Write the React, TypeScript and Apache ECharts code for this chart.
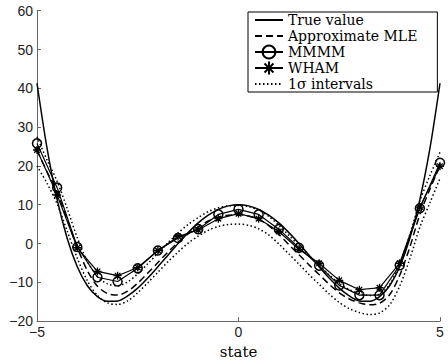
import React, { useEffect, useRef } from "react";
import * as echarts from "echarts";

const STATE_X = [-5, -4.75, -4.5, -4.25, -4, -3.75, -3.5, -3.25, -3, -2.75, -2.5, -2.25, -2, -1.75, -1.5, -1.25, -1, -0.75, -0.5, -0.25, 0, 0.25, 0.5, 0.75, 1, 1.25, 1.5, 1.75, 2, 2.25, 2.5, 2.75, 3, 3.25, 3.5, 3.75, 4, 4.25, 4.5, 4.75, 5];
const TRUE_VALUE = [41.3, 24.5, 11.3, 1.3, -6.0, -10.9, -13.7, -14.9, -14.8, -13.5, -11.5, -8.9, -6.0, -3.0, 0.0, 2.8, 5.3, 7.3, 8.8, 9.7, 10.0, 9.7, 8.8, 7.3, 5.3, 2.8, 0.0, -3.0, -6.0, -8.9, -11.5, -13.5, -14.8, -14.9, -13.7, -10.9, -6.0, 1.3, 11.3, 24.5, 41.3];
const APPROX_MLE = [24.0, 18.5, 13.2, 6.2, -1.0, -7.0, -11.0, -12.9, -13.3, -12.3, -10.2, -7.6, -4.9, -2.2, 0.3, 2.5, 4.3, 5.8, 6.8, 7.3, 7.4, 7.1, 6.2, 4.6, 2.3, -0.3, -2.9, -5.5, -8.0, -10.5, -12.7, -14.3, -15.3, -15.8, -15.4, -13.2, -8.2, -1.0, 7.5, 14.0, 20.0];
const SIGMA_UPPER = [27.5, 21.5, 16.0, 9.0, 1.5, -4.6, -8.5, -10.4, -10.9, -9.9, -7.8, -5.2, -2.5, 0.2, 2.7, 4.9, 6.7, 8.2, 9.2, 9.7, 9.8, 9.5, 8.6, 7.0, 4.7, 2.1, -0.5, -3.1, -5.6, -8.1, -10.3, -11.9, -12.9, -13.4, -13.0, -10.6, -5.2, 2.2, 11.0, 17.5, 23.5];
const SIGMA_LOWER = [20.0, 15.5, 10.2, 3.2, -3.8, -9.6, -13.4, -15.3, -15.7, -14.8, -12.7, -10.1, -7.4, -4.7, -2.2, 0.1, 1.9, 3.4, 4.4, 4.9, 5.0, 4.7, 3.8, 2.2, -0.1, -2.7, -5.3, -8.0, -10.5, -13.0, -15.2, -16.8, -17.8, -18.3, -17.9, -15.8, -11.0, -4.0, 4.2, 10.5, 16.8];

const MARKER_X = [-5, -4.5, -4, -3.5, -3, -2.5, -2, -1.5, -1, -0.5, 0, 0.5, 1, 1.5, 2, 2.5, 3, 3.5, 4, 4.5, 5];
const MMMM = [25.8, 14.4, -0.9, -8.7, -9.8, -6.4, -1.8, 1.4, 3.7, 7.5, 8.8, 7.5, 3.7, -1.1, -5.7, -10.8, -13.3, -13.3, -5.6, 9.1, 20.8];
const WHAM = [24.1, 12.5, -1.1, -7.2, -8.3, -6.2, -1.8, 1.8, 3.5, 6.4, 7.7, 6.4, 3.1, -1.5, -5.1, -9.5, -11.9, -11.4, -5.1, 9.4, 19.9];

const LEGEND_NAMES = ["True value", "Approximate MLE", "MMMM", "WHAM", "1σ intervals"];
const X_LABEL = "state";

const ASTERISK = "path://M5,0L5,10M0,5L10,5M1.5,1.5L8.5,8.5M1.5,8.5L8.5,1.5";

const pairs = (xs: number[], ys: number[]) => xs.map((x, i) => [x, ys[i]]);
const fmt = (v: number) => (v < 0 ? "\u2212" + Math.abs(v) : String(v));

export default function App() {
  const ref = useRef<HTMLDivElement>(null);
  useEffect(() => {
    if (!ref.current) return;
    const chart = echarts.init(ref.current, null, { renderer: "svg" });
    const axisColor = "#666";
    const labelStyle = { fontFamily: "Liberation Sans", fontSize: 14, color: "#222", formatter: fmt };
    const lineBase = { type: "line", animation: false, clip: true };
    const noMark = { color: "rgba(0,0,0,0)", borderWidth: 0 };
    chart.setOption({
      animation: false,
      backgroundColor: "#fff",
      grid: { left: 37, right: 8, top: 10.7, bottom: 35.7, containLabel: false },
      xAxis: {
        type: "value",
        min: -5,
        max: 5,
        interval: 5,
        name: X_LABEL,
        nameLocation: "middle",
        nameGap: 16,
        nameTextStyle: { fontFamily: "DejaVu Serif", fontSize: 15, color: "#000" },
        axisLine: { onZero: false, lineStyle: { color: axisColor, width: 1 } },
        axisTick: { inside: true, length: 4, lineStyle: { color: axisColor } },
        axisLabel: { ...labelStyle, margin: 4 },
        splitLine: { show: false },
      },
      yAxis: {
        type: "value",
        min: -20,
        max: 60,
        interval: 10,
        axisLine: { show: true, onZero: false, lineStyle: { color: axisColor, width: 1 } },
        axisTick: { show: true, inside: true, length: 4, lineStyle: { color: axisColor } },
        axisLabel: { ...labelStyle, margin: 4 },
        splitLine: { show: false },
      },
      legend: {
        data: LEGEND_NAMES,
        orient: "vertical",
        left: 248,
        top: 12,
        padding: [0, 20, 0, 6],
        itemGap: 0,
        itemWidth: 28,
        itemHeight: 16,
        backgroundColor: "#fff",
        borderColor: "#000",
        borderWidth: 1,
        borderRadius: 0,
        textStyle: {
          fontFamily: "DejaVu Serif",
          fontSize: 14,
          lineHeight: 16,
          color: "#000",
        },
      },
      series: [
        {
          ...lineBase,
          name: "True value",
          data: pairs(STATE_X, TRUE_VALUE),
          symbol: "none",
          smooth: 0.3,
          lineStyle: { color: "#000", width: 1.5, type: "solid" },
          itemStyle: noMark,
          z: 5,
        },
        {
          ...lineBase,
          name: "Approximate MLE",
          data: pairs(STATE_X, APPROX_MLE),
          symbol: "none",
          smooth: 0.3,
          lineStyle: { color: "#000", width: 1.5, type: [7, 4] },
          itemStyle: noMark,
          z: 4,
        },
        {
          ...lineBase,
          name: "MMMM",
          data: pairs(MARKER_X, MMMM),
          symbol: "circle",
          symbolSize: 9,
          lineStyle: { color: "#000", width: 1.2, type: "solid" },
          itemStyle: { color: "rgba(0,0,0,0)", borderColor: "#000", borderWidth: 1.5 },
          z: 3,
        },
        {
          ...lineBase,
          name: "WHAM",
          data: pairs(MARKER_X, WHAM),
          symbol: ASTERISK,
          symbolSize: 8,
          lineStyle: { color: "#000", width: 1.2, type: "solid" },
          itemStyle: { color: "#000", borderColor: "#000", borderWidth: 1.3 },
          z: 3,
        },
        {
          ...lineBase,
          name: "1σ intervals",
          data: pairs(STATE_X, SIGMA_UPPER),
          symbol: "none",
          smooth: 0.3,
          lineStyle: { color: "#000", width: 1.5, type: [1.5, 2.5] },
          itemStyle: noMark,
          z: 2,
        },
        {
          ...lineBase,
          name: "1σ intervals",
          data: pairs(STATE_X, SIGMA_LOWER),
          symbol: "none",
          smooth: 0.3,
          lineStyle: { color: "#000", width: 1.5, type: [1.5, 2.5] },
          itemStyle: noMark,
          z: 2,
        },
      ],
    });
    return () => chart.dispose();
  }, []);
  return <div ref={ref} style={{ position: "fixed", left: 0, top: 0, width: 448, height: 364 }} />;
}
